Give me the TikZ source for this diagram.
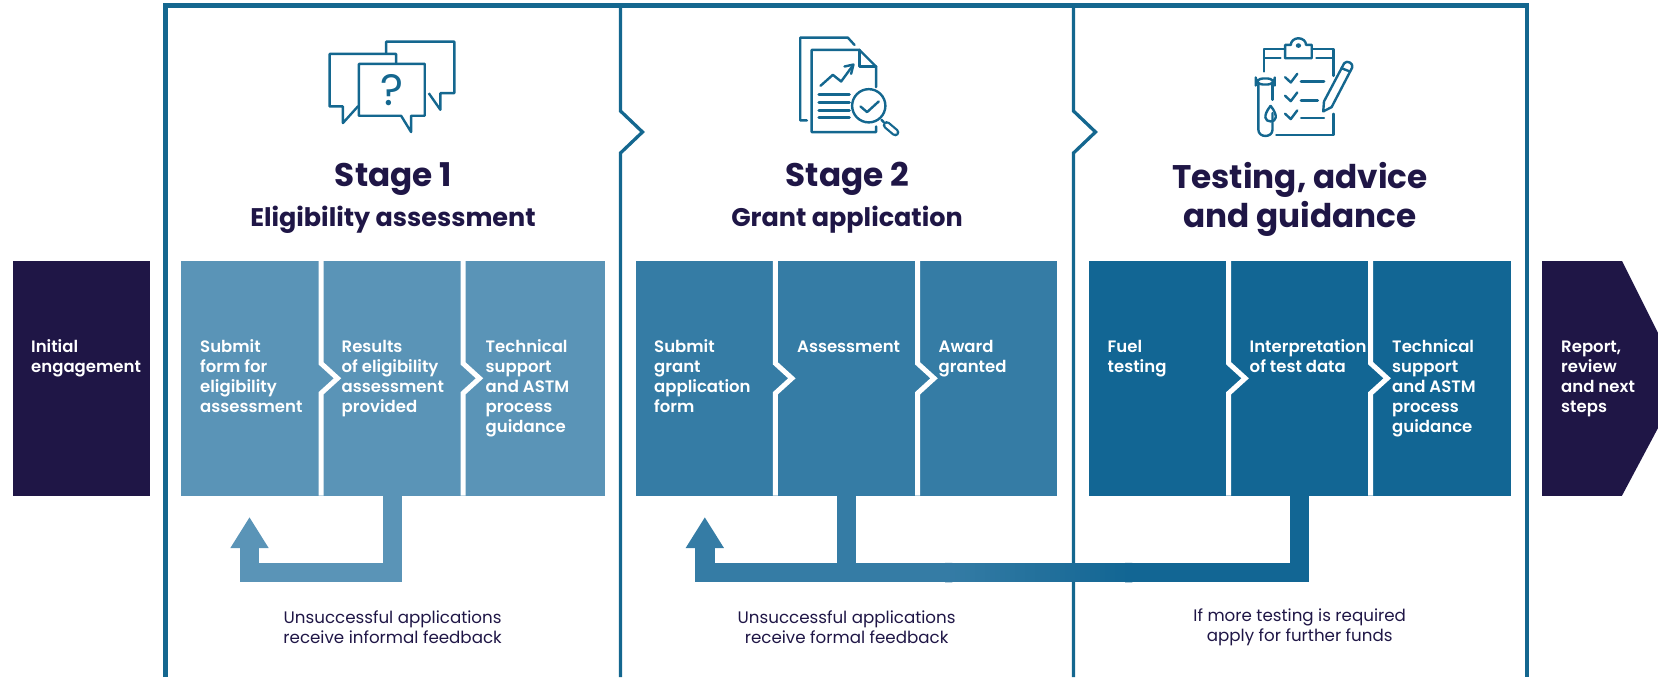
\documentclass[tikz,border=0pt]{standalone}
\usepackage{fontspec}
\setmainfont{Poppins}
\newfontfamily\semifont{Poppins SemiBold}
\usetikzlibrary{calc}
\usetikzlibrary{arrows.meta}
\definecolor{darkColor}{HTML}{1F1646}
\definecolor{frameColor}{HTML}{14678F}
\definecolor{stageOneColor}{HTML}{5A94B7}
\definecolor{stageTwoColor}{HTML}{357CA5}
\definecolor{stageThreeColor}{HTML}{126694}
\tikzset{
  stepbox/.style={minimum height=2.346cm, inner sep=0pt, outer sep=0pt},
  steptext/.style={anchor=north west, inner sep=0pt, align=left, text=white,
    font=\semifont\fontsize{4.7}{5.65}\selectfont},
  headtext/.style={text=darkColor, inner sep=0pt, align=center,
    font=\bfseries\fontsize{9.3}{11.1}\selectfont},
  subtext/.style={text=darkColor, inner sep=0pt,
    font=\bfseries\fontsize{7.25}{8}\selectfont},
  notetext/.style={text=darkColor, inner sep=0pt, align=center,
    font=\fontsize{4.75}{5.65}\selectfont},
  gapline/.style={draw=white, line width=0.05cm},
  frameline/.style={draw=frameColor, line width=0.033cm},
  iconline/.style={draw=frameColor, line width=0.024cm},
  backlink/.style={line width=0.19cm},
  backtip/.style={-{Triangle[width=0.36cm,length=0.31cm]}}
}
\newcommand{\lineone}{\rule{0pt}{5pt}}
\newcommand{\stepgap}[1]{
  \draw[gapline] (#1.north east) -- ($(#1.east)+(0,0.15)$) -- ($(#1.east)+(0.165,0)$)
    -- ($(#1.east)+(0,-0.15)$) -- (#1.south east);
}
\begin{document}
\begin{tikzpicture}
  \useasboundingbox (0,0) rectangle (16.58,6.77);

  % frame
  \draw[frameline, line width=0.045cm] (1.653,0) -- (1.653,6.715) -- (15.27,6.715) -- (15.27,0);
  \draw[frameline] (6.205,6.715) -- (6.205,5.66) -- (6.425,5.45) -- (6.205,5.24) -- (6.205,0);
  \draw[frameline] (10.735,6.715) -- (10.735,5.66) -- (10.955,5.45) -- (10.735,5.24) -- (10.735,0);

  % first and last steps
  \node (initial) [stepbox, fill=darkColor, minimum width=1.375cm] at (0.8125,2.987) {};
  \node (report) [stepbox, fill=darkColor, minimum width=0.8cm] at (15.82,2.987) {};
  \fill[darkColor] (report.north east) -- (16.58,3.44) -- (16.58,2.49) -- (report.south east) -- cycle;

  % stage boxes
  \node (submitForm) [stepbox, fill=stageOneColor, minimum width=1.40cm] at (2.51,2.987) {};
  \node (results) [stepbox, fill=stageOneColor, minimum width=1.42cm] at (3.92,2.987) {};
  \node (techOne) [stepbox, fill=stageOneColor, minimum width=1.415cm] at (5.3375,2.987) {};
  \node (submitGrant) [stepbox, fill=stageTwoColor, minimum width=1.397cm] at (7.055,2.987) {};
  \node (assessment) [stepbox, fill=stageTwoColor, minimum width=1.421cm] at (8.465,2.987) {};
  \node (award) [stepbox, fill=stageTwoColor, minimum width=1.395cm] at (9.8725,2.987) {};
  \node (fuel) [stepbox, fill=stageThreeColor, minimum width=1.399cm] at (11.587,2.987) {};
  \node (interpret) [stepbox, fill=stageThreeColor, minimum width=1.42cm] at (12.997,2.987) {};
  \node (techTwo) [stepbox, fill=stageThreeColor, minimum width=1.398cm] at (14.406,2.987) {};

  \stepgap{submitForm}
  \stepgap{results}
  \stepgap{submitGrant}
  \stepgap{assessment}
  \stepgap{fuel}
  \stepgap{interpret}

  % step labels
  \node (initialText) [steptext] at (0.305,3.425) {\lineone Initial\\engagement};
  \node (submitText) [steptext] at (1.995,3.425) {\lineone Submit\\form for\\eligibility\\assessment};
  \node (resultsText) [steptext] at (3.41,3.425) {\lineone Results\\of eligibility\\assessment\\provided};
  \node (techOneText) [steptext] at (4.85,3.425) {\lineone Technical\\support\\and ASTM\\process\\guidance};
  \node (grantText) [steptext] at (6.535,3.425) {\lineone Submit\\grant\\application\\form};
  \node (assessText) [steptext] at (7.965,3.425) {\lineone Assessment};
  \node (awardText) [steptext] at (9.38,3.425) {\lineone Award\\granted};
  \node (fuelText) [steptext] at (11.07,3.425) {\lineone Fuel\\testing};
  \node (interpretText) [steptext] at (12.49,3.425) {\lineone Interpretation\\of test data};
  \node (techTwoText) [steptext] at (13.915,3.425) {\lineone Technical\\support\\and ASTM\\process\\guidance};
  \node (reportText) [steptext] at (15.605,3.425) {\lineone Report,\\review\\and next\\steps};

  % feedback arrows
  \coordinate (backOne) at (2.495,1.60);
  \coordinate (turnOne) at (2.495,1.045);
  \draw[backlink, draw=stageOneColor, backtip] (results.south) |- (turnOne) -- (backOne);

  \coordinate (backTwo) at (7.048,1.60);
  \coordinate (turnTwo) at (7.048,1.045);
  \coordinate (fadeLeft) at (9.45,1.045);
  \coordinate (fadeRight) at (11.3,1.045);
  \draw[backlink, draw=stageTwoColor] (assessment.south) -- (assessment.south |- fadeLeft);
  \draw[backlink, line width=0.195cm, draw=stageTwoColor, backtip] (fadeLeft) -- (turnTwo) -- (backTwo);
  \draw[backlink, line width=0.195cm, draw=stageThreeColor] (interpret.south) |- (fadeRight);
  \foreach \i in {0,...,36} {
    \pgfmathsetmacro{\p}{\i*100/36}
    \draw[backlink, line width=0.195cm, draw=stageThreeColor!\p!stageTwoColor]
      ($(fadeLeft)!\i/37!(fadeRight)$) -- ($(fadeLeft)!\i/37+0.04!(fadeRight)$);
  }

  % headings
  \node (stageOne) [headtext] at (3.935,4.98) {Stage 1};
  \node (stageOneSub) [subtext] at (3.93,4.57) {Eligibility assessment};
  \node (stageTwo) [headtext] at (8.475,4.98) {Stage 2};
  \node (stageTwoSub) [subtext] at (8.47,4.57) {Grant application};
  \node (stageThree) [headtext] at (13.0,4.78) {Testing, advice\\and guidance};

  % notes
  \node (noteOne) [notetext] at (3.926,0.50) {Unsuccessful applications\\receive informal feedback};
  \node (noteTwo) [notetext] at (8.466,0.50) {Unsuccessful applications\\receive formal feedback};
  \node (noteThree) [notetext] at (12.997,0.50) {If more testing is required\\apply for further funds};

  % speech bubbles
  \begin{scope}[shift={(1.5,6.77)}, x=0.003333cm, y=-0.003333cm, iconline, line join=round]
    \draw (710,160) -- (710,125) -- (915,125) -- (915,280) -- (873,280) -- (873,330) -- (838,280);
    \draw (628,320) -- (625,320) -- (580,370) -- (580,320) -- (540,320) -- (540,162) -- (740,162) -- (740,192);
    \draw (628,192) -- (826,192) -- (826,348) -- (785,348) -- (785,397) -- (755,348) -- (628,348) -- cycle;
    \node (question) [text=frameColor, inner sep=0pt, font=\fontsize{12.5}{13}\selectfont] at (727,270) {?};
  \end{scope}

  % documents
  \begin{scope}[shift={(6,6.77)}, x=0.003333cm, y=-0.003333cm, iconline, line join=round, line cap=round]
    \draw (622,362) -- (602,362) -- (602,113) -- (745,113) -- (765,135);
    \draw (830,262) -- (830,200) -- (780,150) -- (636,150) -- (636,397) -- (830,397) -- (830,380);
    \draw (780,150) -- (780,200) -- (830,200);
    \draw (663,258) -- (700,225) -- (725,245) -- (760,197);
    \draw (735,200) -- (762,194) -- (755,222);
    \draw[line width=0.03cm] (658,285) -- (750,285);
    \draw[line width=0.03cm] (658,308) -- (750,308);
    \draw[line width=0.03cm] (658,331) -- (750,331);
    \draw[line width=0.03cm] (658,353) -- (750,353);
    \draw (808,318) circle (50);
    \draw (783,320) -- (803,337) -- (838,305);
    \draw (846,360) -- (853,367);
    \draw[line width=0.08cm] (862,376) -- (888,398);
    \draw[white, line width=0.035cm] (862,376) -- (888,398);
  \end{scope}

  % clipboard
  \begin{scope}[shift={(10.6,6.77)}, x=0.003814cm, y=-0.003333cm, iconline, line join=round, line cap=round]
    \draw (535,215) -- (535,148) -- (590,148);
    \draw (660,148) -- (717,148) -- (717,228);
    \draw (590,135) -- (590,175) -- (660,175) -- (660,135) -- (645,135) arc (0:-180:20) -- (590,135);
    \fill[frameColor] (625,137) circle (7);
    \draw (535,175) -- (578,175);
    \draw (672,175) -- (717,175);
    \draw (717,342) -- (717,406) -- (567,406);
    \draw (590,232) -- (605,248) -- (622,222);
    \draw (590,288) -- (605,304) -- (622,278);
    \draw (590,342) -- (605,358) -- (622,332);
    \draw[line width=0.03cm] (632,246) -- (692,246);
    \draw[line width=0.03cm] (632,302) -- (675,302);
    \draw (632,355) -- (692,355);
    \draw[rounded corners=2pt] (513,236) rectangle (563,254);
    \draw (520,254) -- (520,390) .. controls (520,415) and (557,415) .. (557,390) -- (557,340);
    \draw (557,254) -- (557,300);
    \draw (552,318) .. controls (530,350) and (538,365) .. (552,365) .. controls (566,365) and (574,350) .. (552,318);
    \draw (690,335) -- (692,305) -- (745,190) .. controls (752,180) and (770,190) .. (766,203) -- (712,322) -- cycle;
    \draw (738,205) -- (760,215);
  \end{scope}
\end{tikzpicture}
\end{document}
